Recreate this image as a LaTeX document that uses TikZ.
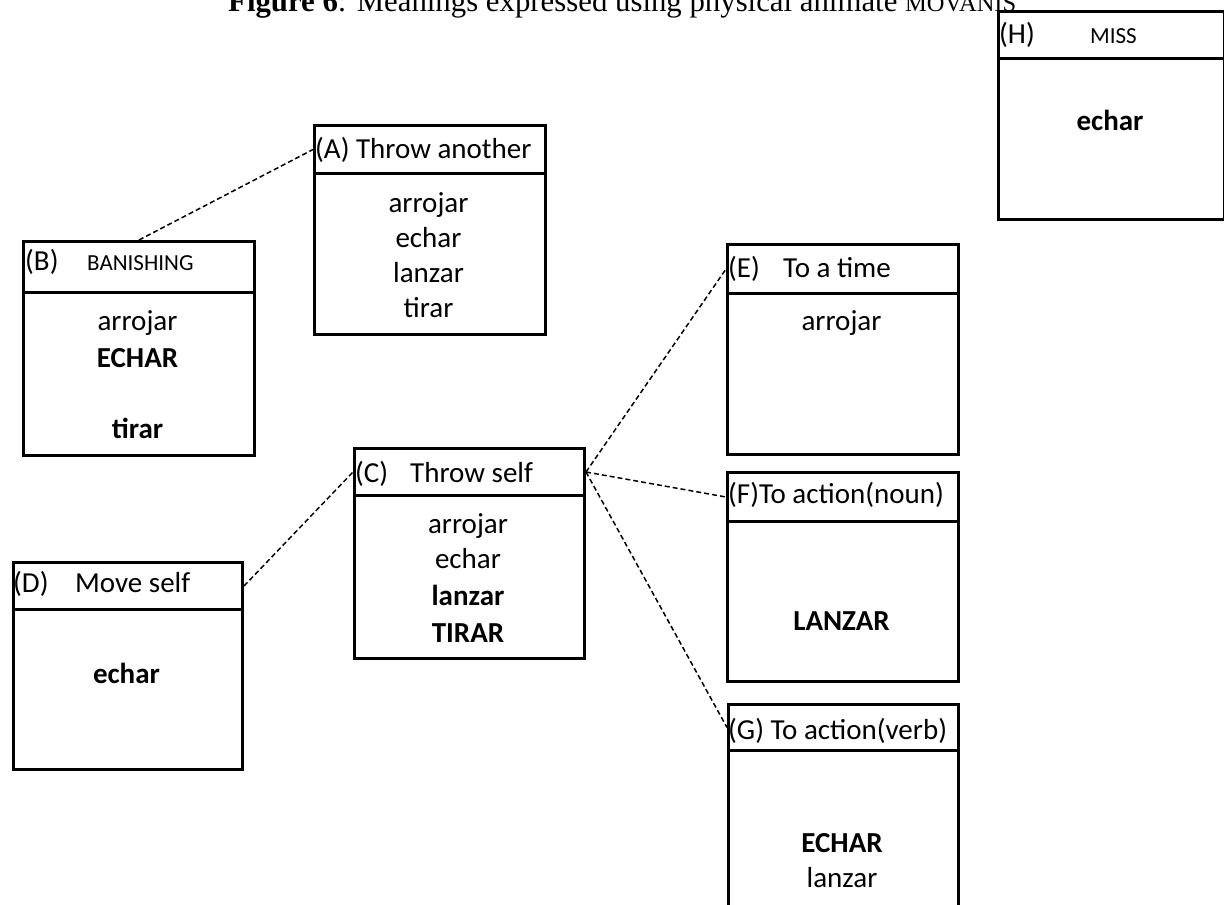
\documentclass[tikz,border=0pt]{standalone}
\usepackage{fontspec}
\setmainfont{Carlito}
\newfontfamily\titlefont{Liberation Serif}
\begin{document}
\begin{tikzpicture}[x=1pt,y=-1pt,
  boxpart/.style={draw, line width=3pt, inner sep=0pt, anchor=north west},
  word/.style={anchor=base, inner sep=0pt, font=\fontsize{29}{35}\selectfont},
  bword/.style={anchor=base, inner sep=0pt, font=\fontsize{29}{35}\selectfont\bfseries},
  lbl/.style={anchor=base west, inner sep=0pt, font=\fontsize{29}{35}\selectfont},
  smc/.style={anchor=base west, inner sep=0pt, font=\fontsize{23}{28}\selectfont},
  link/.style={line width=1.5pt, dash pattern=on 5pt off 3pt}]
\clip (0,0) rectangle (1224,905);
\fill[white] (0,0) rectangle (1224,905);
% title
\node[anchor=base west, inner sep=0pt, font=\titlefont\fontsize{30.8}{36}\selectfont] (title) at (228,11)
  {\textbf{Figure 6}: Meanings expressed using physical animate {\fontsize{24.5}{28}\selectfont MOVANIS}};
% boxes
\node[boxpart, minimum width=231pt, minimum height=48pt] (Ah) at (313,124) {};
\node[boxpart, minimum width=231pt, minimum height=161pt] (Ab) at (313,172) {};
\node[boxpart, minimum width=231pt, minimum height=51pt] (Bh) at (22,240) {};
\node[boxpart, minimum width=231pt, minimum height=163pt] (Bb) at (22,291) {};
\node[boxpart, minimum width=230pt, minimum height=47pt] (Ch) at (353,447) {};
\node[boxpart, minimum width=230pt, minimum height=163pt] (Cb) at (353,494) {};
\node[boxpart, minimum width=229pt, minimum height=47pt] (Dh) at (12,561) {};
\node[boxpart, minimum width=229pt, minimum height=160pt] (Db) at (12,608) {};
\node[boxpart, minimum width=231pt, minimum height=49pt] (Eh) at (726,243) {};
\node[boxpart, minimum width=231pt, minimum height=161pt] (Eb) at (726,292) {};
\node[boxpart, minimum width=231pt, minimum height=49pt] (Fh) at (726,471) {};
\node[boxpart, minimum width=231pt, minimum height=160pt] (Fb) at (726,520) {};
\node[boxpart, minimum width=230pt, minimum height=46pt] (Gh) at (727,703) {};
\node[boxpart, minimum width=230pt, minimum height=180pt] (Gb) at (727,749) {};
\node[boxpart, minimum width=226pt, minimum height=47pt] (Hh) at (997,10) {};
\node[boxpart, minimum width=226pt, minimum height=161pt] (Hb) at (997,57) {};
% header labels
\node[lbl] (At) at (315,158) {(A) Throw another};
\node[lbl] (Bl) at (25,270) {(B)};
\node[smc] (Bt) at (87,270) {BANISHING};
\node[lbl] (Cl) at (355,482) {(C)};
\node[lbl] (Ct) at (410,482) {Throw self};
\node[lbl] (Dl) at (13,592) {(D)};
\node[lbl] (Dt) at (75,592) {Move self};
\node[lbl] (El) at (728,277) {(E)};
\node[lbl] (Et) at (783,277) {To a time};
\node[lbl] (Ft) at (728,503) {(F)To action(noun)};
\node[lbl] (Gt) at (728,739) {(G) To action(verb)};
\node[lbl] (Hl) at (999,43) {(H)};
\node[smc] (Ht) at (1090,43) {MISS};
% body words
\node[word] (A1) at (428.5,212) {arrojar};
\node[word] (A2) at (428.5,247) {echar};
\node[word] (A3) at (428.5,282) {lanzar};
\node[word] (A4) at (428.5,317) {tirar};
\node[word] (B1) at (137.5,330) {arrojar};
\node[bword] (B2) at (137.5,367) {ECHAR};
\node[bword] (B3) at (137.5,438) {tirar};
\node[word] (C1) at (468,533) {arrojar};
\node[word] (C2) at (468,568) {echar};
\node[bword] (C3) at (468,605) {lanzar};
\node[bword] (C4) at (468,642) {TIRAR};
\node[bword] (D1) at (126.5,683) {echar};
\node[word] (E1) at (841.5,330) {arrojar};
\node[bword] (F1) at (841.5,630) {LANZAR};
\node[bword] (G1) at (842,852) {ECHAR};
\node[word] (G2) at (842,887) {lanzar};
\node[bword] (H1) at (1110,130) {echar};
% connectors
\draw[link] (Bh.north) -- (Ah.west);
\draw[link] (Dh.east) -- (Ch.west);
\draw[link] (Ch.east) -- (Eh.west);
\draw[link] (Ch.east) -- (Fh.west);
\draw[link] (Ch.east) -- (Gh.west);
\end{tikzpicture}
\end{document}
